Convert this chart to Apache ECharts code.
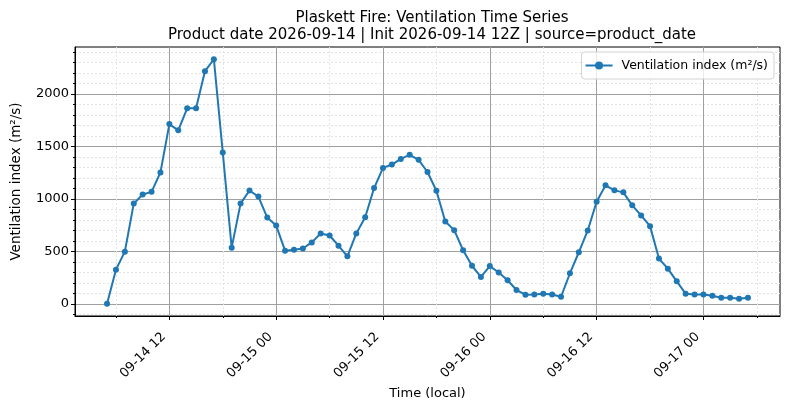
<!DOCTYPE html>
<html>
<head>
<meta charset="utf-8">
<script src="https://cdn.jsdelivr.net/npm/echarts@6/dist/echarts.min.js"></script>
<style>
    html, body { margin: 0; background: #fff; }
    #chart-vent { width: 790px; height: 409px; }
</style>
</head>
<body>
<div id="chart-vent"></div>
<script>
// 时间按小时计：0 = 09-14 00（本地时间），逐小时一个点
const firstHour = 5;
const ventValues = [
    0, 325, 497, 955, 1041, 1067, 1252, 1713, 1653, 1863, 1863, 2217, 2331, 1443,
    535, 955, 1080, 1022, 822, 745, 506, 516, 527, 585, 670, 651, 554, 452,
    670, 824, 1103, 1295, 1327, 1381, 1420, 1372, 1256, 1077, 785, 702, 510, 362,
    256, 359, 298, 224, 131, 87, 88, 95, 89, 67, 290, 491, 699, 973,
    1129, 1081, 1062, 938, 842, 740, 431, 335, 214, 96, 89, 89, 77, 57,
    57, 48, 57
];
const xMajorTicks = [12, 24, 36, 48, 60, 72];
const xMajorLabels = ['09-14 12', '09-15 00', '09-15 12', '09-16 00', '09-16 12', '09-17 00'];
const xMinorTicks = [6, 18, 30, 42, 54, 66, 78];
const yMajorTicks = [0, 500, 1000, 1500, 2000];
const yMinorTicks = [-100, 100, 200, 300, 400, 600, 700, 800, 900, 1100, 1200, 1300, 1400,
    1600, 1700, 1800, 1900, 2100, 2200, 2300, 2400];
const seriesName = 'Ventilation index (m²/s)';

let ventChart = echarts.init(document.getElementById('chart-vent'));

let points = ventValues.map(function (v, i) { return [firstHour + i, v]; });
// 跟 matplotlib 一样两边留 5% 边距
let xLo = firstHour, xHi = firstHour + ventValues.length - 1;
let yLo = Math.min.apply(null, ventValues), yHi = Math.max.apply(null, ventValues);
let xPad = (xHi - xLo) * 0.05, yPad = (yHi - yLo) * 0.05;

let fontName = 'DejaVu Sans';
let ventOption = {
    animation: false,
    textStyle: { fontFamily: fontName, color: '#000' },
    title: {
        text: 'Plaskett Fire: Ventilation Time Series\nProduct date 2026-09-14 | Init 2026-09-14 12Z | source=product_date',
        left: 427,
        top: 5,
        textAlign: 'center',
        textStyle: { fontFamily: fontName, fontSize: 15, fontWeight: 'normal', lineHeight: 17, color: '#000' }
    },
    legend: {
        data: [seriesName],
        right: 16,
        top: 52,
        itemWidth: 27,
        itemHeight: 10,
        itemGap: 8,
        padding: [7, 6, 7, 3],
        borderColor: '#d3d3d3',
        borderWidth: 1,
        borderRadius: 3,
        backgroundColor: 'rgba(255,255,255,0.8)',
        textStyle: { fontFamily: fontName, fontSize: 12.5, color: '#000', padding: [0, 0, 0, 4] }
    },
    grid: {
        left: 75, right: 10, top: 47, bottom: 93,
        outerBoundsMode: 'none',
        containLabel: false,
        show: true, borderColor: '#000', borderWidth: 1, backgroundColor: '#fff'
    },
    xAxis: [{
        type: 'value',
        min: xLo - xPad,
        max: xHi + xPad,
        name: 'Time (local)',
        nameLocation: 'middle',
        nameGap: 70,
        nameTextStyle: { fontFamily: fontName, fontSize: 13, color: '#000' },
        axisLine: { show: true, onZero: false, lineStyle: { color: '#000', width: 1 } },
        axisTick: { show: true, length: 4, customValues: xMajorTicks, lineStyle: { color: '#000' } },
        axisLabel: {
            customValues: xMajorTicks,
            rotate: 45,
            margin: 13,
            padding: [0, 8, 0, 0],  // 斜着的标签往左下挪一点
            fontSize: 13,
            color: '#000',
            formatter: function (v) { return xMajorLabels[xMajorTicks.indexOf(v)]; }
        },
        splitLine: { show: true, lineStyle: { color: '#a0a0a0', width: 1 } }
    }, {
        type: 'value',
        position: 'bottom',
        min: xLo - xPad,
        max: xHi + xPad,
        axisLine: { show: false, onZero: false },
        axisTick: { show: true, length: 2, customValues: xMinorTicks, lineStyle: { color: '#000' } },
        axisLabel: { show: false },
        splitLine: { show: true, lineStyle: { color: '#e4e4e4', width: 1, type: [2, 2] } }
    }],
    yAxis: [{
        type: 'value',
        min: yLo - yPad,
        max: yHi + yPad,
        name: seriesName,
        nameLocation: 'middle',
        nameGap: 52,
        nameTextStyle: { fontFamily: fontName, fontSize: 13.5, color: '#000' },
        axisLine: { show: true, onZero: false, lineStyle: { color: '#000', width: 1 } },
        axisTick: { show: true, length: 4, customValues: yMajorTicks, lineStyle: { color: '#000' } },
        axisLabel: {
            customValues: yMajorTicks, margin: 6, fontSize: 13, color: '#000',
            formatter: function (v) { return String(v); }
        },
        splitLine: { show: true, lineStyle: { color: '#a0a0a0', width: 1 } }
    }, {
        type: 'value',
        position: 'left',
        min: yLo - yPad,
        max: yHi + yPad,
        axisLine: { show: false, onZero: false },
        axisTick: { show: true, length: 2, customValues: yMinorTicks, lineStyle: { color: '#000' } },
        axisLabel: { show: false },
        splitLine: { show: true, lineStyle: { color: '#e4e4e4', width: 1, type: [2, 2] } }
    }],
    series: [{
        name: seriesName,
        type: 'line',
        xAxisIndex: 0,
        yAxisIndex: 0,
        data: points,
        symbol: 'circle',
        symbolSize: 6,
        color: '#1f77b4',
        lineStyle: { width: 2, color: '#1f77b4' },
        itemStyle: { color: '#1f77b4' },
        z: 5
    }]
};
ventChart.setOption(ventOption);
</script>
</body>
</html>
